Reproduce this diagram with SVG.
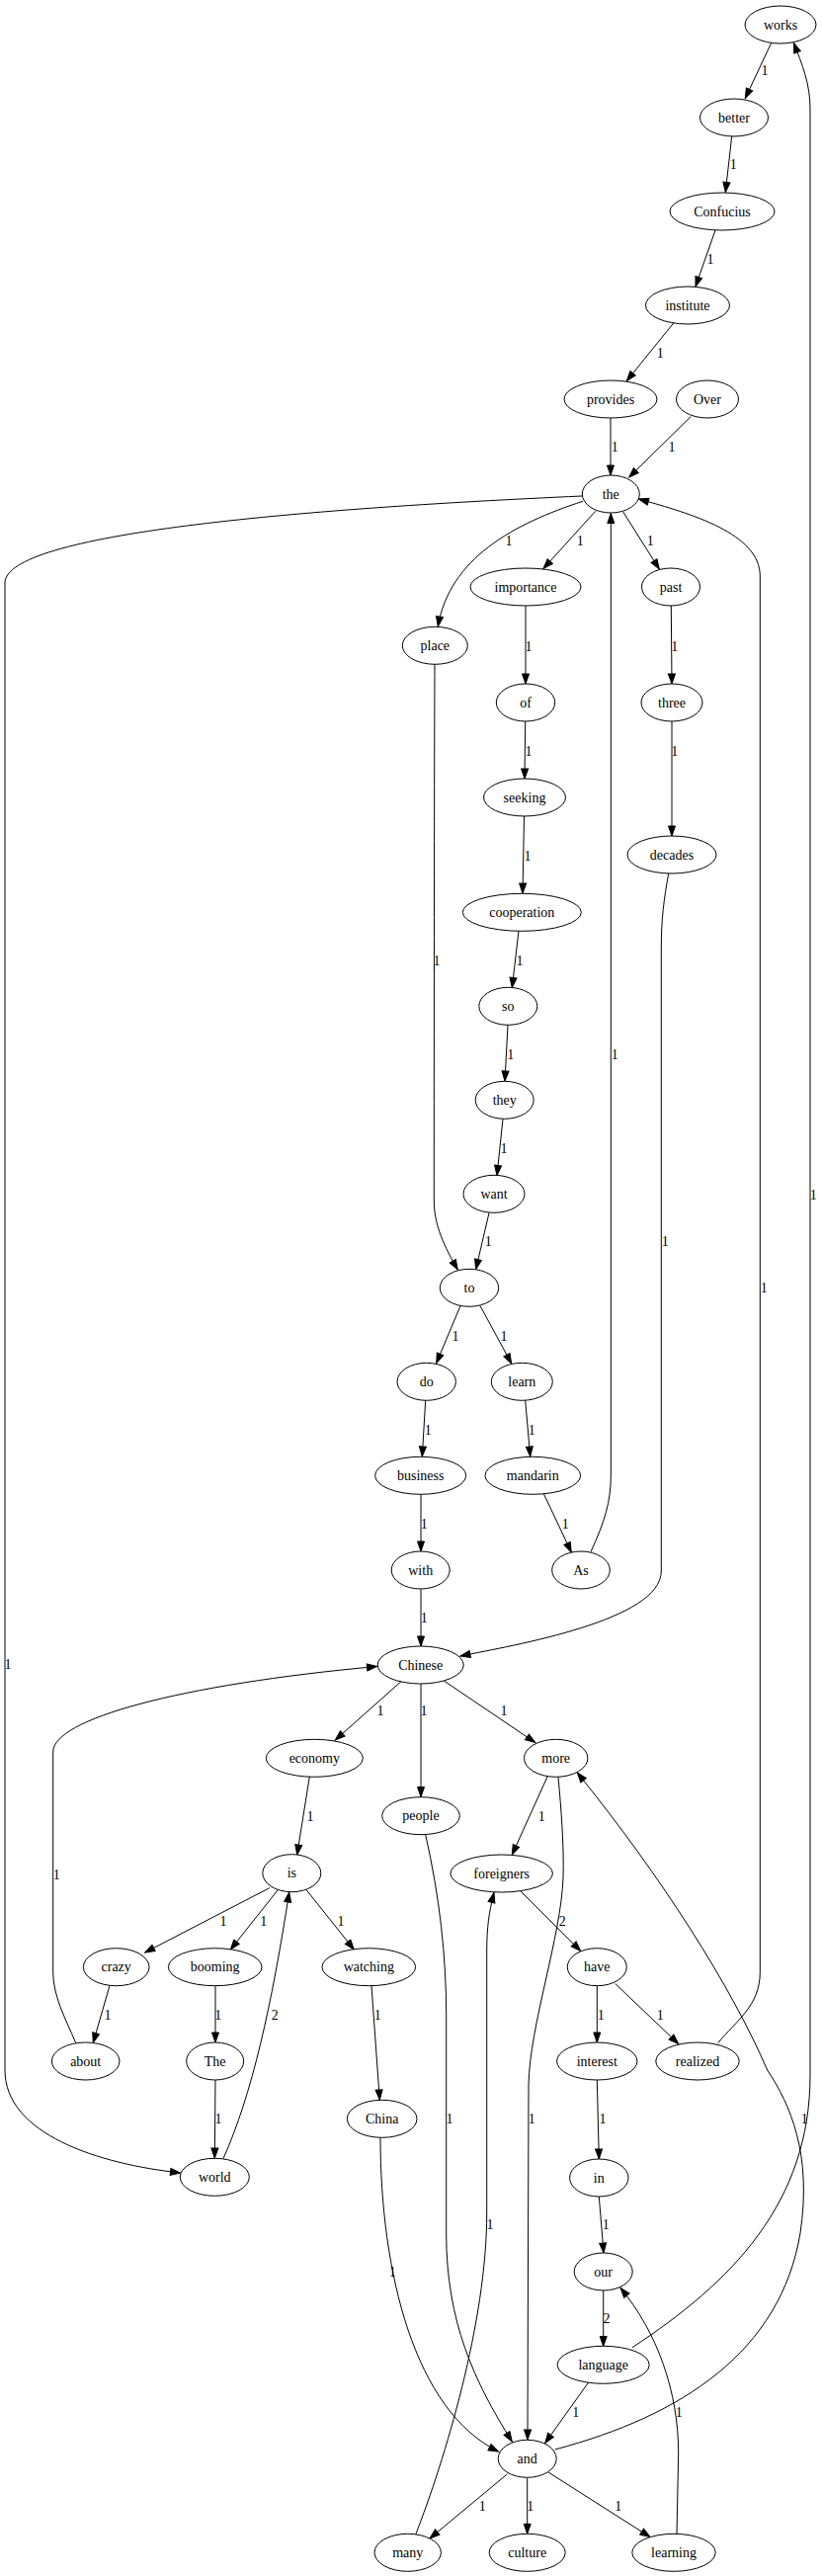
<svg xmlns="http://www.w3.org/2000/svg" width="832" height="2607" viewBox="0 0 832 2607">
<style>
text{font-family:"Liberation Serif","Times New Roman",serif;font-size:14px;text-anchor:middle;fill:#000}
.n ellipse{fill:#fff;stroke:#000;stroke-width:1}
.e path{fill:none;stroke:#000;stroke-width:1;marker-end:url(#ah)}
</style>
<defs>
<marker id="ah" markerUnits="userSpaceOnUse" markerWidth="10" markerHeight="7" refX="10" refY="3.5" orient="auto" overflow="visible">
<path d="M0,0 L10,3.5 L0,7 z" fill="#000" stroke="#000" stroke-width="1"/>
</marker>
</defs>
<rect width="832" height="2607" fill="#fff"/>
<g id="connectors" class="e">
<path d="M780.7,43.3 L754.3,99.5"/>
<path d="M740.7,138 L734.3,194.5"/>
<path d="M724,233 L704,290"/>
<path d="M681.7,327 L634.3,385.5"/>
<path d="M618,423 L618,481"/>
<path d="M699.3,421.5 L636.7,483"/>
<path d="M590,507.3 C520,530 455,565 443.3,634"/>
<path d="M602.7,517.3 L550,575.5"/>
<path d="M630.7,518 L667.3,576"/>
<path d="M589,502 C300,515 5,540 5,590 L5,2095 C5,2160 100,2190 182.5,2199"/>
<path d="M532,613 L532,692"/>
<path d="M679.3,613 L680,692"/>
<path d="M531.7,730 L531,788"/>
<path d="M680,730 L680,846"/>
<path d="M530.5,826 L529,904"/>
<path d="M525,942 L518.3,999.5"/>
<path d="M514,1037 L511,1094"/>
<path d="M509,1132.3 L503,1189.5"/>
<path d="M495,1227.5 L481.7,1284.5"/>
<path d="M440,672 C439.5,800 439.3,1100 439.3,1215 C439.3,1240 450,1262 463.3,1285"/>
<path d="M676.7,884 C672,910 669.3,930 669.3,960 L669.3,1590 C669.3,1640 520,1665 466,1676"/>
<path d="M466,1321.5 L441.7,1379.5"/>
<path d="M486,1321.5 L517.7,1380"/>
<path d="M430.7,1417.3 L427.3,1474"/>
<path d="M531.7,1417.3 L536.7,1474"/>
<path d="M426,1512 L426,1570"/>
<path d="M550,1511 L578.3,1571"/>
<path d="M426,1608 L426,1666"/>
<path d="M598,1570.5 C612,1540 618.3,1520 618.3,1493 L618.3,519.5"/>
<path d="M406,1701.7 L339.3,1761"/>
<path d="M426,1704 L426,1818.5"/>
<path d="M449.3,1701 L541.7,1763.5"/>
<path d="M313.3,1798 L300.7,1877"/>
<path d="M554.3,1797.5 L518.3,1877"/>
<path d="M272.7,1910.7 L146.7,1976"/>
<path d="M281,1913 L233.3,1973"/>
<path d="M310,1912.5 L358.3,1973"/>
<path d="M526,1913 L587.7,1974.5"/>
<path d="M111,2009.5 L94.3,2067.3"/>
<path d="M218,2010 L218,2067"/>
<path d="M226,2184.5 C255,2120 275,2030 292.7,1915"/>
<path d="M376,2009.5 L384.3,2125"/>
<path d="M604.3,2010 L604.3,2067"/>
<path d="M622.7,2007.5 L686.7,2068.5"/>
<path d="M76.7,2067.5 C65,2040 53.7,2020 53.7,1995 L53.7,1773 C53.7,1740 180,1705 381.5,1686.5"/>
<path d="M218,2105 L217.3,2184"/>
<path d="M726.7,2067.7 C745,2045 769.3,2030 769.3,1996 L769.3,583 C769.3,540 700,520 646.5,505"/>
<path d="M430.7,1856.7 C445,1920 451.7,1980 451.7,2040 L451.7,2260 C451.7,2350 480,2410 518.3,2471"/>
<path d="M420.7,2565 C450,2490 492.7,2350 492.7,2240 L492.7,1975 C492.7,1950 495,1935 500,1915.5"/>
<path d="M565,1798.5 C568,1830 571,1870 570,1900 C568,1960 536,2050 535,2110 L534,2469"/>
<path d="M385,2163 C385,2300 420,2440 504.5,2481"/>
<path d="M604.3,2105 L606.3,2185"/>
<path d="M606.3,2223 L611,2280"/>
<path d="M610.7,2318 L610.7,2374.5"/>
<path d="M595.7,2411 L551.7,2472.5"/>
<path d="M640,2375.7 C740,2310 820,2230 820,2100 L820,110 C820,85 812,65 803.3,43.5"/>
<path d="M561.7,2479 C690,2445 790,2380 810,2260 C822,2180 800,2130 776.7,2095 C740,2010 670,1900 584.3,1794"/>
<path d="M513.3,2504 L435,2569"/>
<path d="M533.7,2507.5 L533.7,2564.3"/>
<path d="M555,2502 L658,2567.5"/>
<path d="M685,2564.5 L686.7,2483 C686.7,2420 665,2360 628,2315.5"/>
<g id="edge-labels">
<text x="774" y="76.4">1</text>
<text x="742.3" y="171.4">1</text>
<text x="719" y="267">1</text>
<text x="668.3" y="362.4">1</text>
<text x="622.3" y="457">1</text>
<text x="680" y="457">1</text>
<text x="515" y="552.4">1</text>
<text x="587.3" y="552.4">1</text>
<text x="658.3" y="552.4">1</text>
<text x="8" y="1688.7">1</text>
<text x="535" y="659">1</text>
<text x="682.7" y="659">1</text>
<text x="535" y="764.7">1</text>
<text x="682.7" y="764.7">1</text>
<text x="534" y="870.7">1</text>
<text x="526" y="977.4">1</text>
<text x="516.7" y="1072.4">1</text>
<text x="510" y="1167">1</text>
<text x="494.3" y="1261.4">1</text>
<text x="442" y="977.4">1</text>
<text x="673.3" y="1261.4">1</text>
<text x="461" y="1357">1</text>
<text x="510" y="1357">1</text>
<text x="433.3" y="1452">1</text>
<text x="538.3" y="1452">1</text>
<text x="429.3" y="1547">1</text>
<text x="572.3" y="1547">1</text>
<text x="429.3" y="1642">1</text>
<text x="622.3" y="1072.4">1</text>
<text x="385" y="1736.4">1</text>
<text x="429" y="1736.4">1</text>
<text x="510" y="1736.4">1</text>
<text x="314" y="1843">1</text>
<text x="548.3" y="1843">1</text>
<text x="226" y="1948.7">1</text>
<text x="266.7" y="1948.7">1</text>
<text x="345" y="1948.7">1</text>
<text x="569.3" y="1948.7">2</text>
<text x="109" y="2043.7">1</text>
<text x="220.7" y="2043.7">1</text>
<text x="278.3" y="2043.7">2</text>
<text x="382.3" y="2043.7">1</text>
<text x="608.3" y="2043.7">1</text>
<text x="668.3" y="2043.7">1</text>
<text x="57.3" y="1902">1</text>
<text x="221" y="2149">1</text>
<text x="773.3" y="1308">1</text>
<text x="455" y="2149">1</text>
<text x="496" y="2256.4">1</text>
<text x="538.3" y="2149">1</text>
<text x="397.3" y="2304">1</text>
<text x="610" y="2149">1</text>
<text x="613.3" y="2256.4">1</text>
<text x="614" y="2351.4">2</text>
<text x="582.7" y="2446.4">1</text>
<text x="823.3" y="1213.7">1</text>
<text x="814.3" y="2149">1</text>
<text x="488.3" y="2541.4">1</text>
<text x="536.7" y="2541.4">1</text>
<text x="625.7" y="2541.4">1</text>
<text x="687.3" y="2446.4">1</text>
</g>
</g>
<g class="n">
<g id="node-works"><ellipse cx="790" cy="25" rx="36" ry="19"/><text x="790" y="29.5">works</text></g>
<g id="node-better"><ellipse cx="743" cy="119" rx="34.5" ry="19"/><text x="743" y="123.5">better</text></g>
<g id="node-Confucius"><ellipse cx="731" cy="214" rx="53" ry="19"/><text x="731" y="218.5">Confucius</text></g>
<g id="node-institute"><ellipse cx="696" cy="309" rx="42.5" ry="19"/><text x="696" y="313.5">institute</text></g>
<g id="node-provides"><ellipse cx="618" cy="404" rx="47" ry="19"/><text x="618" y="408.5">provides</text></g>
<g id="node-Over"><ellipse cx="716" cy="404" rx="31.5" ry="19"/><text x="716" y="408.5">Over</text></g>
<g id="node-the"><ellipse cx="618.3" cy="500" rx="29" ry="19"/><text x="618.3" y="504.5">the</text></g>
<g id="node-importance"><ellipse cx="532" cy="594" rx="56" ry="19"/><text x="532" y="598.5">importance</text></g>
<g id="node-past"><ellipse cx="679" cy="594" rx="29.5" ry="19"/><text x="679" y="598.5">past</text></g>
<g id="node-place"><ellipse cx="440.3" cy="653.3" rx="33" ry="19"/><text x="440.3" y="657.8">place</text></g>
<g id="node-of"><ellipse cx="532" cy="711" rx="29.7" ry="19"/><text x="532" y="715.5">of</text></g>
<g id="node-three"><ellipse cx="680" cy="711" rx="31" ry="19"/><text x="680" y="715.5">three</text></g>
<g id="node-seeking"><ellipse cx="531" cy="807" rx="41.5" ry="19"/><text x="531" y="811.5">seeking</text></g>
<g id="node-decades"><ellipse cx="680" cy="865" rx="45" ry="19"/><text x="680" y="869.5">decades</text></g>
<g id="node-cooperation"><ellipse cx="528.3" cy="923.3" rx="60" ry="19"/><text x="528.3" y="927.8">cooperation</text></g>
<g id="node-so"><ellipse cx="514.3" cy="1018.3" rx="29.5" ry="19"/><text x="514.3" y="1022.8">so</text></g>
<g id="node-they"><ellipse cx="510.7" cy="1113.3" rx="29.5" ry="19"/><text x="510.7" y="1117.8">they</text></g>
<g id="node-want"><ellipse cx="500" cy="1208.3" rx="31" ry="19"/><text x="500" y="1212.8">want</text></g>
<g id="node-to"><ellipse cx="475" cy="1303.3" rx="29.7" ry="19"/><text x="475" y="1307.8">to</text></g>
<g id="node-do"><ellipse cx="431.7" cy="1398.3" rx="29.7" ry="19"/><text x="431.7" y="1402.8">do</text></g>
<g id="node-learn"><ellipse cx="528.3" cy="1398.3" rx="31" ry="19"/><text x="528.3" y="1402.8">learn</text></g>
<g id="node-business"><ellipse cx="425.7" cy="1493.3" rx="46" ry="19"/><text x="425.7" y="1497.8">business</text></g>
<g id="node-mandarin"><ellipse cx="539.3" cy="1493.3" rx="48.3" ry="19"/><text x="539.3" y="1497.8">mandarin</text></g>
<g id="node-with"><ellipse cx="425.7" cy="1589" rx="29.5" ry="19"/><text x="425.7" y="1593.5">with</text></g>
<g id="node-As"><ellipse cx="588" cy="1589" rx="29.3" ry="19"/><text x="588" y="1593.5">As</text></g>
<g id="node-Chinese"><ellipse cx="425.7" cy="1685" rx="43.5" ry="19"/><text x="425.7" y="1689.5">Chinese</text></g>
<g id="node-economy"><ellipse cx="318.3" cy="1779.3" rx="49" ry="19"/><text x="318.3" y="1783.8">economy</text></g>
<g id="node-more"><ellipse cx="562.7" cy="1779.3" rx="32.2" ry="19"/><text x="562.7" y="1783.8">more</text></g>
<g id="node-people"><ellipse cx="426" cy="1837.7" rx="39.3" ry="19"/><text x="426" y="1842.2">people</text></g>
<g id="node-is"><ellipse cx="295.3" cy="1895.7" rx="29.5" ry="19"/><text x="295.3" y="1900.2">is</text></g>
<g id="node-foreigners"><ellipse cx="507.7" cy="1896" rx="51.7" ry="19"/><text x="507.7" y="1900.5">foreigners</text></g>
<g id="node-crazy"><ellipse cx="117.7" cy="1990.7" rx="33.3" ry="19"/><text x="117.7" y="1995.2">crazy</text></g>
<g id="node-booming"><ellipse cx="217.7" cy="1990.7" rx="47.3" ry="19"/><text x="217.7" y="1995.2">booming</text></g>
<g id="node-watching"><ellipse cx="373.3" cy="1990.7" rx="47.3" ry="19"/><text x="373.3" y="1995.2">watching</text></g>
<g id="node-have"><ellipse cx="604.3" cy="1990.7" rx="30" ry="19"/><text x="604.3" y="1995.2">have</text></g>
<g id="node-about"><ellipse cx="86.7" cy="2086" rx="34.3" ry="19"/><text x="86.7" y="2090.5">about</text></g>
<g id="node-The"><ellipse cx="217.7" cy="2086" rx="29" ry="19"/><text x="217.7" y="2090.5">The</text></g>
<g id="node-interest"><ellipse cx="604.3" cy="2086" rx="40.7" ry="19"/><text x="604.3" y="2090.5">interest</text></g>
<g id="node-realized"><ellipse cx="706" cy="2086" rx="42.2" ry="19"/><text x="706" y="2090.5">realized</text></g>
<g id="node-China"><ellipse cx="386.7" cy="2144.3" rx="35.3" ry="19"/><text x="386.7" y="2148.8">China</text></g>
<g id="node-world"><ellipse cx="217.3" cy="2203.3" rx="35" ry="19"/><text x="217.3" y="2207.8">world</text></g>
<g id="node-in"><ellipse cx="606.3" cy="2204" rx="29.7" ry="19"/><text x="606.3" y="2208.5">in</text></g>
<g id="node-our"><ellipse cx="610.7" cy="2299" rx="29.5" ry="19"/><text x="610.7" y="2303.5">our</text></g>
<g id="node-language"><ellipse cx="610.7" cy="2393.3" rx="46.5" ry="19"/><text x="610.7" y="2397.8">language</text></g>
<g id="node-and"><ellipse cx="533.7" cy="2488.3" rx="29.5" ry="19"/><text x="533.7" y="2492.8">and</text></g>
<g id="node-many"><ellipse cx="412.7" cy="2583.3" rx="33.7" ry="19"/><text x="412.7" y="2587.8">many</text></g>
<g id="node-culture"><ellipse cx="533.7" cy="2583.3" rx="38.5" ry="19"/><text x="533.7" y="2587.8">culture</text></g>
<g id="node-learning"><ellipse cx="682" cy="2583.3" rx="42.2" ry="19"/><text x="682" y="2587.8">learning</text></g>
</g>
</svg>
